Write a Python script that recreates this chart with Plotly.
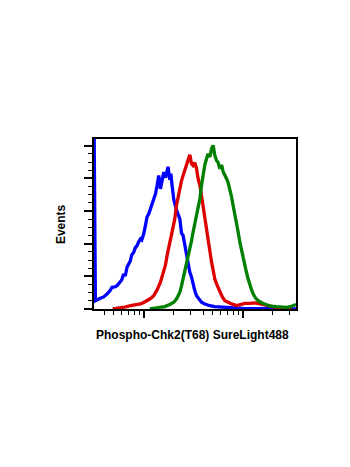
import plotly.graph_objects as go

# Fluorescence intensity in log10 units, and event counts per bin
blue_log = [1.497, 1.511, 1.561, 1.595, 1.628, 1.656, 1.679, 1.706, 1.730, 1.764, 1.777,
            1.797, 1.813, 1.831, 1.865, 1.878, 1.899, 1.914, 1.932, 1.949, 1.967, 1.980,
            2.000, 2.017, 2.033, 2.051, 2.068, 2.081, 2.094, 2.119, 2.135, 2.152, 2.169,
            2.185, 2.203, 2.220, 2.236, 2.246, 2.263, 2.274, 2.287, 2.304, 2.331, 2.347,
            2.365, 2.382, 2.398, 2.415, 2.433, 2.449, 2.466, 2.483, 2.499, 2.517, 2.534,
            2.557, 2.584, 2.618, 2.669, 2.719, 2.770, 2.838, 2.922, 3.003, 3.125, 3.277,
            3.429, 3.540]
blue_cnt = [120.0, 5.1, 6.6, 7.4, 9.2, 11.0, 13.3, 13.5, 14.3, 16.4, 17.8,
            21.5, 20.2, 25.6, 29.6, 33.1, 34.8, 37.4, 38.8, 41.1, 42.9, 42.3,
            46.0, 51.1, 56.3, 58.3, 61.4, 63.8, 67.5, 70.6, 75.6, 81.8, 73.6,
            78.7, 83.9, 80.4, 86.5, 87.1, 79.1, 82.8, 75.5, 66.9, 60.7, 58.3,
            55.2, 46.4, 45.0, 39.3, 32.7, 27.6, 22.5, 19.6, 14.3, 11.0, 8.2,
            6.1, 4.1, 3.1, 2.0, 1.5, 1.2, 0.9, 0.6, 0.4, 0.3, 0.2,
            0.1, 0.0]

red_log = [1.686, 1.747, 1.808, 1.865, 1.909, 1.967, 2.000, 2.033, 2.068, 2.101, 2.135,
           2.169, 2.185, 2.203, 2.220, 2.236, 2.253, 2.271, 2.287, 2.297, 2.314, 2.331,
           2.347, 2.365, 2.382, 2.398, 2.415, 2.433, 2.449, 2.466, 2.483, 2.499, 2.517,
           2.534, 2.550, 2.568, 2.584, 2.601, 2.618, 2.635, 2.651, 2.669, 2.686, 2.702,
           2.719, 2.745, 2.770, 2.795, 2.821, 2.851, 2.889, 2.939, 2.972, 3.023, 3.074,
           3.125, 3.175, 3.226, 3.277, 3.327, 3.378, 3.446, 3.499]
red_cnt = [0.1, 0.4, 1.2, 2.0, 2.5, 3.1, 4.0, 5.1, 6.4, 8.2, 11.7,
           16.4, 19.6, 22.5, 27.0, 32.7, 37.4, 42.9, 46.6, 49.1, 55.2, 63.4,
           68.7, 73.6, 78.5, 81.8, 85.3, 87.9, 90.8, 94.5, 89.0, 87.9, 89.6,
           85.9, 79.8, 75.5, 69.5, 62.6, 55.2, 47.9, 40.9, 35.0, 28.7, 23.9,
           18.4, 14.1, 10.2, 7.4, 5.1, 4.0, 3.1, 2.1, 2.6, 3.4, 3.4,
           3.7, 3.2, 2.6, 1.8, 1.0, 0.6, 0.4, 0.2]

green_log = [2.061, 2.111, 2.162, 2.213, 2.263, 2.304, 2.331, 2.347, 2.365, 2.382, 2.398,
             2.415, 2.433, 2.449, 2.466, 2.483, 2.499, 2.517, 2.534, 2.550, 2.568, 2.584,
             2.601, 2.618, 2.635, 2.651, 2.669, 2.686, 2.702, 2.719, 2.737, 2.753, 2.770,
             2.787, 2.804, 2.821, 2.838, 2.854, 2.871, 2.888, 2.904, 2.922, 2.939, 2.955,
             2.972, 2.989, 3.005, 3.022, 3.039, 3.056, 3.074, 3.091, 3.107, 3.131, 3.158,
             3.195, 3.243, 3.286, 3.344, 3.395, 3.446, 3.479, 3.513, 3.540]
green_cnt = [0.1, 0.4, 0.9, 1.5, 2.8, 4.1, 6.1, 8.0, 10.2, 14.1, 18.4,
             22.7, 26.6, 31.9, 36.8, 41.7, 47.1, 52.1, 57.2, 62.6, 67.5, 75.6,
             83.9, 88.3, 92.0, 95.1, 93.1, 98.2, 100.2, 94.0, 91.0, 89.6, 85.9,
             88.3, 83.9, 82.2, 79.8, 77.3, 73.6, 68.7, 63.4, 58.3, 53.2, 47.2,
             40.9, 35.6, 30.7, 26.4, 22.5, 18.4, 14.3, 11.7, 9.2, 6.7, 5.1,
             3.7, 2.6, 1.8, 1.4, 1.0, 1.0, 1.4, 2.0, 2.8]

series = [
    ("blue", blue_log, blue_cnt, "#0000ff"),
    ("red", red_log, red_cnt, "#dd0000"),
    ("green", green_log, green_cnt, "#008000"),
]

x_major = [100, 1000]
x_minor = [40, 50, 60, 70, 80, 90, 200, 300, 400, 500, 600, 700, 800, 900, 2000, 3000]
y_major = [0, 20, 40, 60, 80, 100]
y_minor = [5, 10, 15, 25, 30, 35, 45, 50, 55, 65, 70, 75, 85, 90, 95]

fig = go.Figure()
for name, lg, cnt, color in series:
    fig.add_trace(go.Scatter(
        x=[10 ** v for v in lg], y=cnt, mode="lines", name=name,
        line=dict(color=color, width=3.3), showlegend=False,
    ))

axis_font = dict(family="Liberation Sans, Arial, sans-serif", size=12, color="black")

fig.update_layout(
    width=350, height=467,
    margin=dict(l=94, r=54, t=139, b=158),
    paper_bgcolor="white", plot_bgcolor="white",
    xaxis=dict(
        type="log", range=[1.497, 3.54],
        showgrid=False, zeroline=False,
        showline=True, linecolor="black", linewidth=1.5, mirror=True,
        ticks="outside", ticklen=7, tickwidth=2, tickcolor="black",
        tickvals=x_major, showticklabels=False,
        minor=dict(ticks="outside", ticklen=4, tickwidth=1.2, tickcolor="black",
                   tickvals=x_minor, showgrid=False),
    ),
    yaxis=dict(
        range=[0, 104.1],
        showgrid=False, zeroline=False,
        showline=True, linecolor="black", linewidth=1.5, mirror=True,
        ticks="outside", ticklen=8, tickwidth=2, tickcolor="black",
        tickvals=y_major, showticklabels=False,
        minor=dict(ticks="outside", ticklen=4, tickwidth=1.2, tickcolor="black",
                   tickvals=y_minor, showgrid=False),
    ),
    annotations=[
        dict(text="<b>Phospho-Chk2(T68) SureLight488</b>", xref="paper", yref="paper",
             x=0.49, y=-0.153, xanchor="center", yanchor="middle",
             showarrow=False, font=axis_font),
        dict(text="<b>Events</b>", xref="paper", yref="paper",
             x=-0.163, y=0.5, xanchor="center", yanchor="middle", textangle=-90,
             showarrow=False, font=axis_font),
    ],
)

fig.write_html("out.html")
